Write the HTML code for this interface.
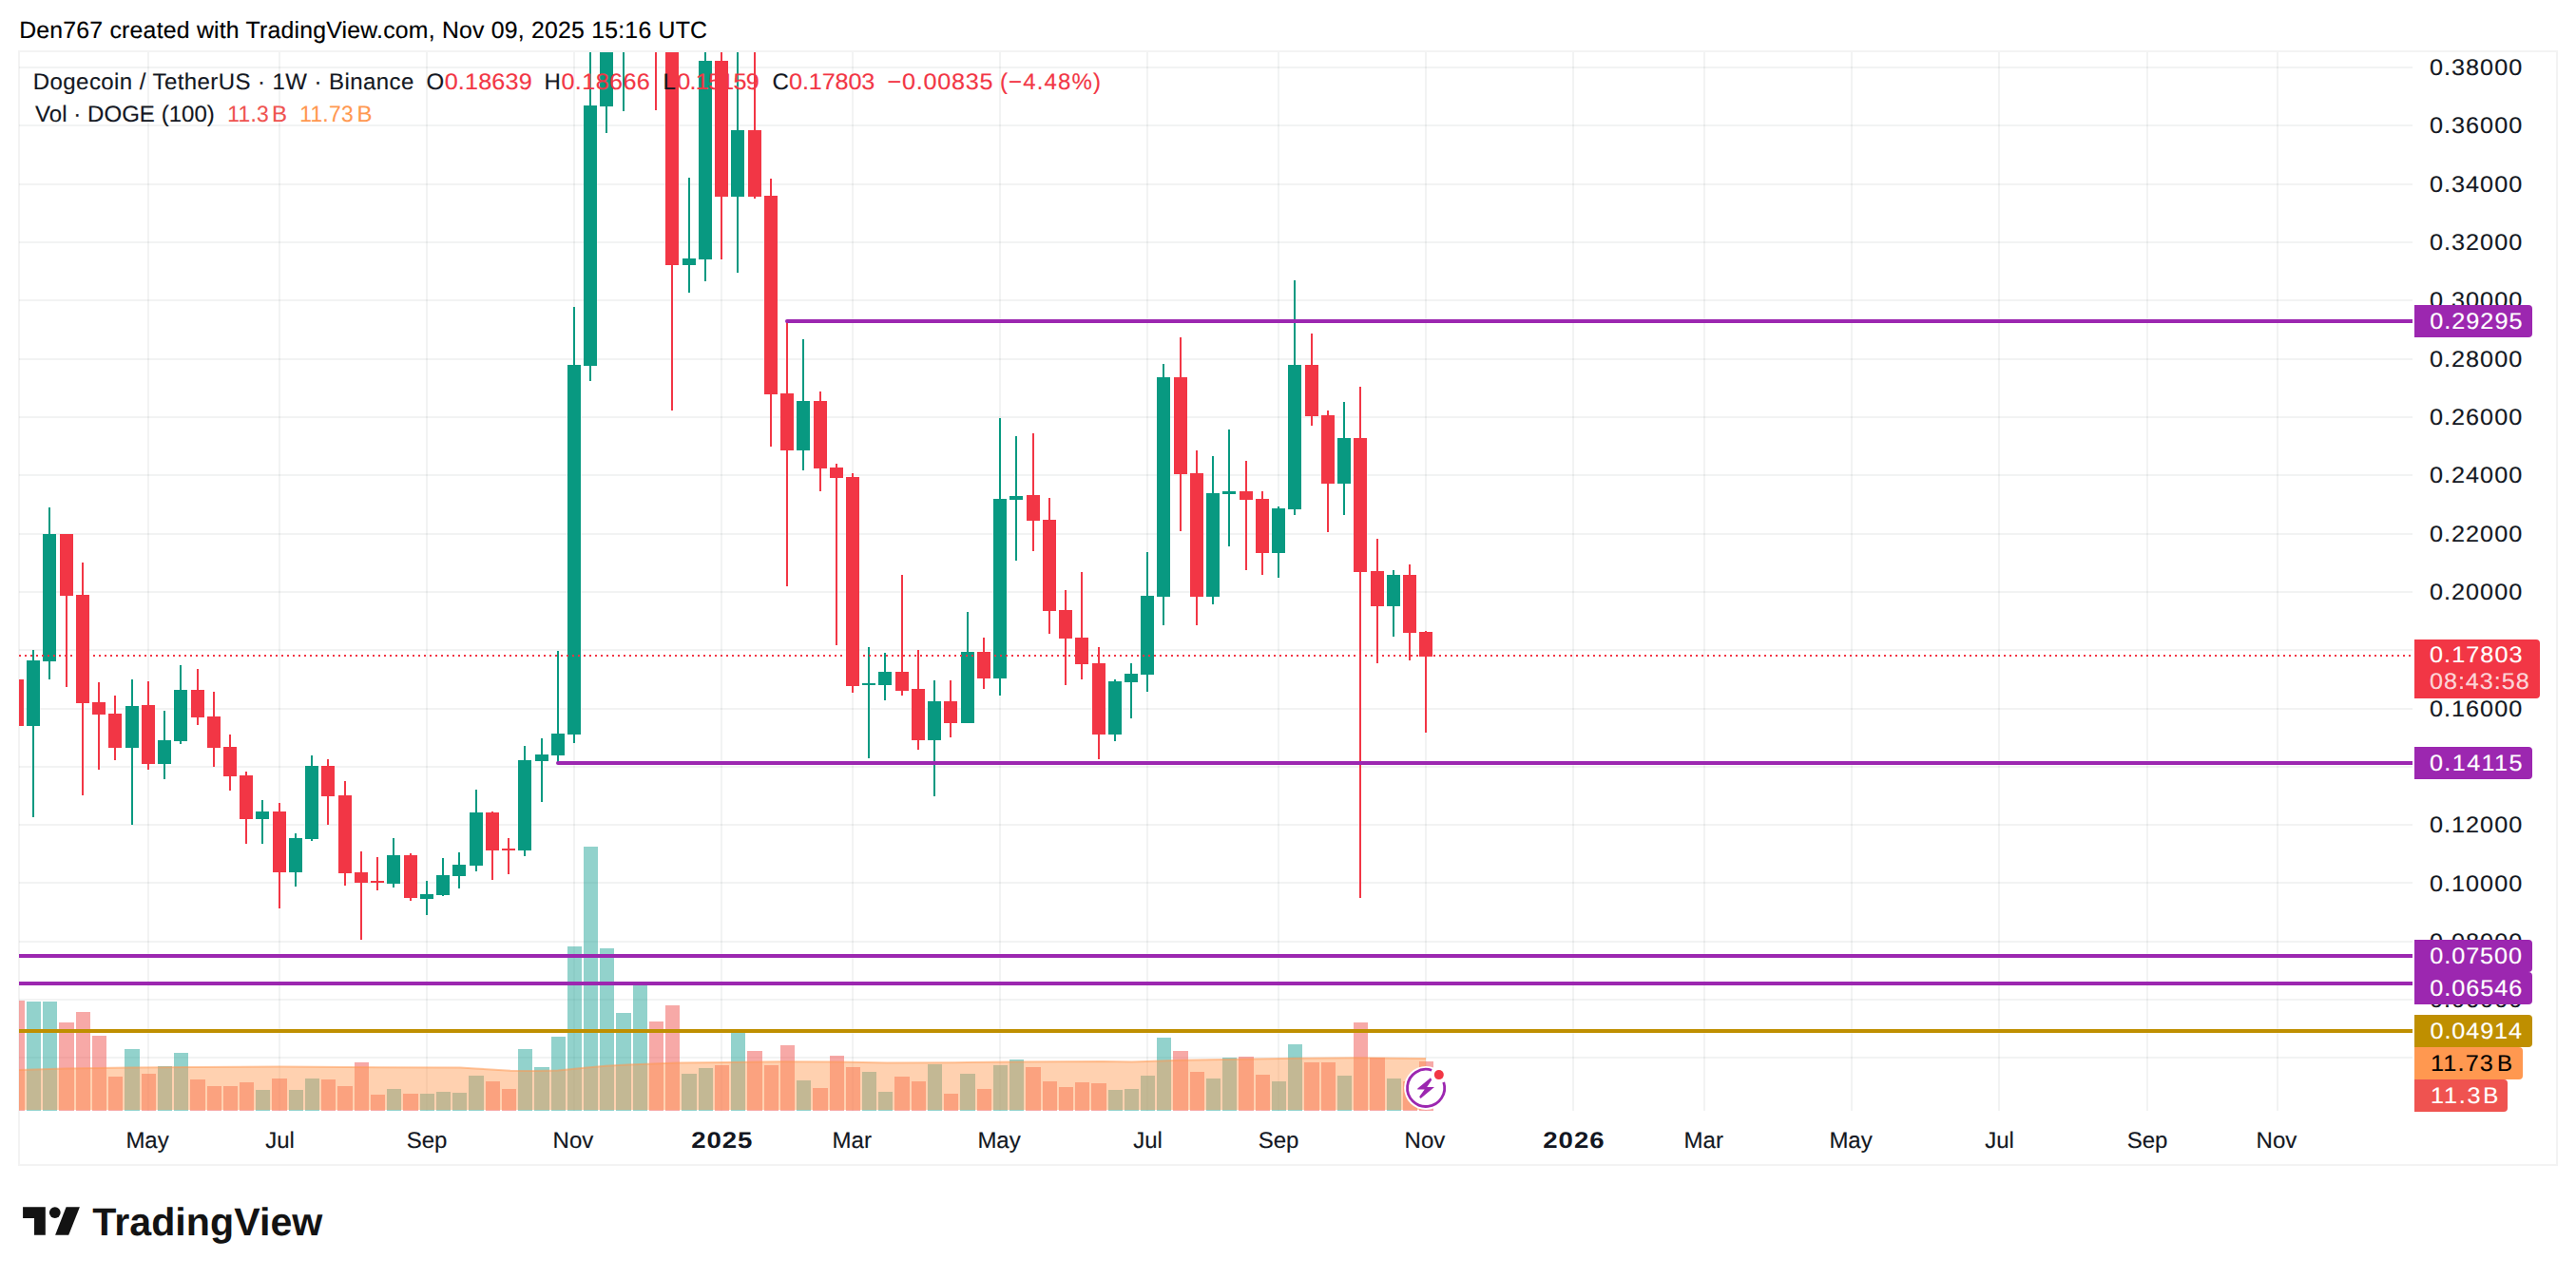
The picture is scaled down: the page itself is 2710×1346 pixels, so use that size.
<!DOCTYPE html>
<html lang="en"><head><meta charset="utf-8"><title>DOGEUSDT 1W chart</title>
<style>html,body{margin:0;padding:0;background:#fff}body{width:2710px;height:1346px;overflow:hidden}svg{display:block}</style>
</head><body>
<svg width="2710" height="1346" viewBox="0 0 2710 1346" font-family="'Liberation Sans', sans-serif" shape-rendering="crispEdges" text-rendering="geometricPrecision">
<rect width="2710" height="1346" fill="#fff"/>
<defs><clipPath id="plot"><rect x="20" y="55" width="2518" height="1114"/></clipPath></defs>
<g fill="#f3f3f3">
<rect x="19" y="53" width="2" height="1174"/>
<rect x="19" y="53" width="2672" height="2"/>
<rect x="2689" y="53" width="2" height="1174"/>
<rect x="19" y="1225" width="2672" height="2"/>
</g>
<g fill="#2a2e39" fill-opacity="0.06">
<rect x="155" y="55" width="2" height="1114"/>
<rect x="293" y="55" width="2" height="1114"/>
<rect x="448" y="55" width="2" height="1114"/>
<rect x="603" y="55" width="2" height="1114"/>
<rect x="758" y="55" width="2" height="1114"/>
<rect x="896" y="55" width="2" height="1114"/>
<rect x="1051" y="55" width="2" height="1114"/>
<rect x="1206" y="55" width="2" height="1114"/>
<rect x="1344" y="55" width="2" height="1114"/>
<rect x="1499" y="55" width="2" height="1114"/>
<rect x="1654" y="55" width="2" height="1114"/>
<rect x="1792" y="55" width="2" height="1114"/>
<rect x="1947" y="55" width="2" height="1114"/>
<rect x="2102" y="55" width="2" height="1114"/>
<rect x="2258" y="55" width="2" height="1114"/>
<rect x="2395" y="55" width="2" height="1114"/>
<rect x="20" y="70" width="2518" height="2"/>
<rect x="20" y="131" width="2518" height="2"/>
<rect x="20" y="193" width="2518" height="2"/>
<rect x="20" y="254" width="2518" height="2"/>
<rect x="20" y="315" width="2518" height="2"/>
<rect x="20" y="377" width="2518" height="2"/>
<rect x="20" y="438" width="2518" height="2"/>
<rect x="20" y="499" width="2518" height="2"/>
<rect x="20" y="561" width="2518" height="2"/>
<rect x="20" y="622" width="2518" height="2"/>
<rect x="20" y="683" width="2518" height="2"/>
<rect x="20" y="745" width="2518" height="2"/>
<rect x="20" y="806" width="2518" height="2"/>
<rect x="20" y="867" width="2518" height="2"/>
<rect x="20" y="928" width="2518" height="2"/>
<rect x="20" y="990" width="2518" height="2"/>
<rect x="20" y="1051" width="2518" height="2"/>
<rect x="20" y="1112" width="2518" height="2"/>
</g>
<g clip-path="url(#plot)">
<rect x="11" y="1053" width="15" height="116" fill="#ef5350" fill-opacity="0.5"/>
<rect x="28" y="1054" width="15" height="115" fill="#26a69a" fill-opacity="0.5"/>
<rect x="45" y="1054" width="15" height="115" fill="#26a69a" fill-opacity="0.5"/>
<rect x="62" y="1076" width="16" height="93" fill="#ef5350" fill-opacity="0.5"/>
<rect x="80" y="1065" width="15" height="104" fill="#ef5350" fill-opacity="0.5"/>
<rect x="97" y="1090" width="15" height="79" fill="#ef5350" fill-opacity="0.5"/>
<rect x="114" y="1133" width="15" height="36" fill="#ef5350" fill-opacity="0.5"/>
<rect x="131" y="1104" width="16" height="65" fill="#26a69a" fill-opacity="0.5"/>
<rect x="149" y="1130" width="15" height="39" fill="#ef5350" fill-opacity="0.5"/>
<rect x="166" y="1122" width="15" height="47" fill="#26a69a" fill-opacity="0.5"/>
<rect x="183" y="1108" width="15" height="61" fill="#26a69a" fill-opacity="0.5"/>
<rect x="200" y="1136" width="16" height="33" fill="#ef5350" fill-opacity="0.5"/>
<rect x="218" y="1143" width="15" height="26" fill="#ef5350" fill-opacity="0.5"/>
<rect x="235" y="1143" width="15" height="26" fill="#ef5350" fill-opacity="0.5"/>
<rect x="252" y="1139" width="15" height="30" fill="#ef5350" fill-opacity="0.5"/>
<rect x="269" y="1147" width="15" height="22" fill="#26a69a" fill-opacity="0.5"/>
<rect x="286" y="1135" width="16" height="34" fill="#ef5350" fill-opacity="0.5"/>
<rect x="304" y="1147" width="15" height="22" fill="#26a69a" fill-opacity="0.5"/>
<rect x="321" y="1135" width="15" height="34" fill="#26a69a" fill-opacity="0.5"/>
<rect x="338" y="1136" width="15" height="33" fill="#ef5350" fill-opacity="0.5"/>
<rect x="355" y="1143" width="16" height="26" fill="#ef5350" fill-opacity="0.5"/>
<rect x="373" y="1118" width="15" height="51" fill="#ef5350" fill-opacity="0.5"/>
<rect x="390" y="1152" width="15" height="17" fill="#ef5350" fill-opacity="0.5"/>
<rect x="407" y="1146" width="15" height="23" fill="#26a69a" fill-opacity="0.5"/>
<rect x="424" y="1151" width="16" height="18" fill="#ef5350" fill-opacity="0.5"/>
<rect x="442" y="1151" width="15" height="18" fill="#26a69a" fill-opacity="0.5"/>
<rect x="459" y="1149" width="15" height="20" fill="#26a69a" fill-opacity="0.5"/>
<rect x="476" y="1150" width="15" height="19" fill="#26a69a" fill-opacity="0.5"/>
<rect x="493" y="1132" width="16" height="37" fill="#26a69a" fill-opacity="0.5"/>
<rect x="511" y="1138" width="15" height="31" fill="#ef5350" fill-opacity="0.5"/>
<rect x="528" y="1146" width="15" height="23" fill="#ef5350" fill-opacity="0.5"/>
<rect x="545" y="1104" width="15" height="65" fill="#26a69a" fill-opacity="0.5"/>
<rect x="562" y="1123" width="16" height="46" fill="#26a69a" fill-opacity="0.5"/>
<rect x="580" y="1091" width="15" height="78" fill="#26a69a" fill-opacity="0.5"/>
<rect x="597" y="996" width="15" height="173" fill="#26a69a" fill-opacity="0.5"/>
<rect x="614" y="891" width="15" height="278" fill="#26a69a" fill-opacity="0.5"/>
<rect x="631" y="998" width="15" height="171" fill="#26a69a" fill-opacity="0.5"/>
<rect x="648" y="1066" width="16" height="103" fill="#26a69a" fill-opacity="0.5"/>
<rect x="666" y="1037" width="15" height="132" fill="#26a69a" fill-opacity="0.5"/>
<rect x="683" y="1075" width="15" height="94" fill="#ef5350" fill-opacity="0.5"/>
<rect x="700" y="1058" width="15" height="111" fill="#ef5350" fill-opacity="0.5"/>
<rect x="717" y="1130" width="16" height="39" fill="#26a69a" fill-opacity="0.5"/>
<rect x="735" y="1124" width="15" height="45" fill="#26a69a" fill-opacity="0.5"/>
<rect x="752" y="1121" width="15" height="48" fill="#ef5350" fill-opacity="0.5"/>
<rect x="769" y="1087" width="15" height="82" fill="#26a69a" fill-opacity="0.5"/>
<rect x="786" y="1106" width="16" height="63" fill="#ef5350" fill-opacity="0.5"/>
<rect x="804" y="1121" width="15" height="48" fill="#ef5350" fill-opacity="0.5"/>
<rect x="821" y="1100" width="15" height="69" fill="#ef5350" fill-opacity="0.5"/>
<rect x="838" y="1137" width="15" height="32" fill="#26a69a" fill-opacity="0.5"/>
<rect x="855" y="1145" width="16" height="24" fill="#ef5350" fill-opacity="0.5"/>
<rect x="873" y="1111" width="15" height="58" fill="#ef5350" fill-opacity="0.5"/>
<rect x="890" y="1123" width="15" height="46" fill="#ef5350" fill-opacity="0.5"/>
<rect x="907" y="1128" width="15" height="41" fill="#26a69a" fill-opacity="0.5"/>
<rect x="924" y="1149" width="15" height="20" fill="#26a69a" fill-opacity="0.5"/>
<rect x="941" y="1133" width="16" height="36" fill="#ef5350" fill-opacity="0.5"/>
<rect x="959" y="1138" width="15" height="31" fill="#ef5350" fill-opacity="0.5"/>
<rect x="976" y="1120" width="15" height="49" fill="#26a69a" fill-opacity="0.5"/>
<rect x="993" y="1151" width="15" height="18" fill="#ef5350" fill-opacity="0.5"/>
<rect x="1010" y="1130" width="16" height="39" fill="#26a69a" fill-opacity="0.5"/>
<rect x="1028" y="1146" width="15" height="23" fill="#ef5350" fill-opacity="0.5"/>
<rect x="1045" y="1121" width="15" height="48" fill="#26a69a" fill-opacity="0.5"/>
<rect x="1062" y="1115" width="15" height="54" fill="#26a69a" fill-opacity="0.5"/>
<rect x="1079" y="1123" width="16" height="46" fill="#ef5350" fill-opacity="0.5"/>
<rect x="1097" y="1138" width="15" height="31" fill="#ef5350" fill-opacity="0.5"/>
<rect x="1114" y="1144" width="15" height="25" fill="#ef5350" fill-opacity="0.5"/>
<rect x="1131" y="1139" width="15" height="30" fill="#ef5350" fill-opacity="0.5"/>
<rect x="1148" y="1140" width="16" height="29" fill="#ef5350" fill-opacity="0.5"/>
<rect x="1166" y="1147" width="15" height="22" fill="#26a69a" fill-opacity="0.5"/>
<rect x="1183" y="1146" width="15" height="23" fill="#26a69a" fill-opacity="0.5"/>
<rect x="1200" y="1132" width="15" height="37" fill="#26a69a" fill-opacity="0.5"/>
<rect x="1217" y="1092" width="15" height="77" fill="#26a69a" fill-opacity="0.5"/>
<rect x="1234" y="1106" width="16" height="63" fill="#ef5350" fill-opacity="0.5"/>
<rect x="1252" y="1128" width="15" height="41" fill="#ef5350" fill-opacity="0.5"/>
<rect x="1269" y="1135" width="15" height="34" fill="#26a69a" fill-opacity="0.5"/>
<rect x="1286" y="1113" width="15" height="56" fill="#26a69a" fill-opacity="0.5"/>
<rect x="1303" y="1112" width="16" height="57" fill="#ef5350" fill-opacity="0.5"/>
<rect x="1321" y="1131" width="15" height="38" fill="#ef5350" fill-opacity="0.5"/>
<rect x="1338" y="1138" width="15" height="31" fill="#26a69a" fill-opacity="0.5"/>
<rect x="1355" y="1099" width="15" height="70" fill="#26a69a" fill-opacity="0.5"/>
<rect x="1372" y="1118" width="16" height="51" fill="#ef5350" fill-opacity="0.5"/>
<rect x="1390" y="1118" width="15" height="51" fill="#ef5350" fill-opacity="0.5"/>
<rect x="1407" y="1132" width="15" height="37" fill="#26a69a" fill-opacity="0.5"/>
<rect x="1424" y="1076" width="15" height="93" fill="#ef5350" fill-opacity="0.5"/>
<rect x="1441" y="1113" width="16" height="56" fill="#ef5350" fill-opacity="0.5"/>
<rect x="1459" y="1135" width="15" height="34" fill="#26a69a" fill-opacity="0.5"/>
<rect x="1476" y="1138" width="15" height="31" fill="#ef5350" fill-opacity="0.5"/>
<rect x="1493" y="1117" width="15" height="52" fill="#ef5350" fill-opacity="0.5"/>
<polygon points="20,1168 20,1126.0 68,1124.6 136,1123.5 203,1123.0 294,1122.5 400,1123.3 484,1123.5 500,1124.5 537,1126.7 562,1127.0 587,1126.4 612,1123.9 637,1121.7 660,1120.5 713,1118.4 780,1117.8 821,1117.2 882,1117.4 933,1118.6 1004,1118.2 1065,1117.4 1160,1117.0 1191,1117.6 1242,1115.8 1303,1114.8 1364,1113.7 1425,1113.3 1500,1114.1 1500,1168" fill="#ff9850" fill-opacity="0.45" shape-rendering="geometricPrecision"/>
<polyline points="20,1126.0 68,1124.6 136,1123.5 203,1123.0 294,1122.5 400,1123.3 484,1123.5 500,1124.5 537,1126.7 562,1127.0 587,1126.4 612,1123.9 637,1121.7 660,1120.5 713,1118.4 780,1117.8 821,1117.2 882,1117.4 933,1118.6 1004,1118.2 1065,1117.4 1160,1117.0 1191,1117.6 1242,1115.8 1303,1114.8 1364,1113.7 1425,1113.3 1500,1114.1" fill="none" stroke="#ff9850" stroke-opacity="0.52" stroke-width="2" stroke-linejoin="round" shape-rendering="geometricPrecision"/>
<rect x="11" y="715" width="14" height="49" fill="#F23645"/>
<rect x="34" y="684" width="2" height="176" fill="#089981"/>
<rect x="28" y="695" width="14" height="69" fill="#089981"/>
<rect x="51" y="534" width="2" height="181" fill="#089981"/>
<rect x="45" y="562" width="14" height="134" fill="#089981"/>
<rect x="69" y="562" width="2" height="161" fill="#F23645"/>
<rect x="63" y="562" width="14" height="65" fill="#F23645"/>
<rect x="86" y="592" width="2" height="245" fill="#F23645"/>
<rect x="80" y="626" width="14" height="114" fill="#F23645"/>
<rect x="103" y="718" width="2" height="92" fill="#F23645"/>
<rect x="97" y="739" width="14" height="13" fill="#F23645"/>
<rect x="120" y="732" width="2" height="68" fill="#F23645"/>
<rect x="114" y="751" width="14" height="36" fill="#F23645"/>
<rect x="138" y="715" width="2" height="153" fill="#089981"/>
<rect x="132" y="743" width="14" height="44" fill="#089981"/>
<rect x="155" y="717" width="2" height="93" fill="#F23645"/>
<rect x="149" y="742" width="14" height="62" fill="#F23645"/>
<rect x="172" y="748" width="2" height="72" fill="#089981"/>
<rect x="166" y="779" width="14" height="25" fill="#089981"/>
<rect x="189" y="700" width="2" height="83" fill="#089981"/>
<rect x="183" y="726" width="14" height="54" fill="#089981"/>
<rect x="207" y="704" width="2" height="59" fill="#F23645"/>
<rect x="201" y="726" width="14" height="29" fill="#F23645"/>
<rect x="224" y="728" width="2" height="79" fill="#F23645"/>
<rect x="218" y="754" width="14" height="33" fill="#F23645"/>
<rect x="241" y="773" width="2" height="59" fill="#F23645"/>
<rect x="235" y="786" width="14" height="31" fill="#F23645"/>
<rect x="258" y="812" width="2" height="76" fill="#F23645"/>
<rect x="252" y="816" width="14" height="46" fill="#F23645"/>
<rect x="275" y="842" width="2" height="46" fill="#089981"/>
<rect x="269" y="854" width="14" height="8" fill="#089981"/>
<rect x="293" y="845" width="2" height="111" fill="#F23645"/>
<rect x="287" y="854" width="14" height="64" fill="#F23645"/>
<rect x="310" y="877" width="2" height="56" fill="#089981"/>
<rect x="304" y="882" width="14" height="36" fill="#089981"/>
<rect x="327" y="795" width="2" height="90" fill="#089981"/>
<rect x="321" y="806" width="14" height="77" fill="#089981"/>
<rect x="344" y="799" width="2" height="69" fill="#F23645"/>
<rect x="338" y="806" width="14" height="32" fill="#F23645"/>
<rect x="362" y="822" width="2" height="110" fill="#F23645"/>
<rect x="356" y="837" width="14" height="82" fill="#F23645"/>
<rect x="379" y="896" width="2" height="93" fill="#F23645"/>
<rect x="373" y="918" width="14" height="11" fill="#F23645"/>
<rect x="396" y="902" width="2" height="35" fill="#F23645"/>
<rect x="390" y="927" width="14" height="2" fill="#F23645"/>
<rect x="413" y="882" width="2" height="52" fill="#089981"/>
<rect x="407" y="900" width="14" height="30" fill="#089981"/>
<rect x="431" y="898" width="2" height="50" fill="#F23645"/>
<rect x="425" y="900" width="14" height="45" fill="#F23645"/>
<rect x="448" y="927" width="2" height="36" fill="#089981"/>
<rect x="442" y="941" width="14" height="5" fill="#089981"/>
<rect x="465" y="903" width="2" height="40" fill="#089981"/>
<rect x="459" y="921" width="14" height="21" fill="#089981"/>
<rect x="482" y="897" width="2" height="38" fill="#089981"/>
<rect x="476" y="910" width="14" height="12" fill="#089981"/>
<rect x="500" y="831" width="2" height="86" fill="#089981"/>
<rect x="494" y="855" width="14" height="56" fill="#089981"/>
<rect x="517" y="854" width="2" height="72" fill="#F23645"/>
<rect x="511" y="855" width="14" height="40" fill="#F23645"/>
<rect x="534" y="882" width="2" height="38" fill="#F23645"/>
<rect x="528" y="893" width="14" height="2" fill="#F23645"/>
<rect x="551" y="785" width="2" height="116" fill="#089981"/>
<rect x="545" y="800" width="14" height="95" fill="#089981"/>
<rect x="569" y="777" width="2" height="67" fill="#089981"/>
<rect x="563" y="794" width="14" height="7" fill="#089981"/>
<rect x="586" y="685" width="2" height="117" fill="#089981"/>
<rect x="580" y="772" width="14" height="23" fill="#089981"/>
<rect x="603" y="323" width="2" height="459" fill="#089981"/>
<rect x="597" y="384" width="14" height="389" fill="#089981"/>
<rect x="620" y="0" width="2" height="401" fill="#089981"/>
<rect x="614" y="111" width="14" height="274" fill="#089981"/>
<rect x="637" y="0" width="2" height="140" fill="#089981"/>
<rect x="631" y="0" width="14" height="112" fill="#089981"/>
<rect x="655" y="0" width="2" height="117" fill="#089981"/>
<rect x="689" y="0" width="2" height="116" fill="#F23645"/>
<rect x="706" y="0" width="2" height="432" fill="#F23645"/>
<rect x="700" y="0" width="14" height="279" fill="#F23645"/>
<rect x="724" y="187" width="2" height="121" fill="#089981"/>
<rect x="718" y="272" width="14" height="7" fill="#089981"/>
<rect x="741" y="0" width="2" height="296" fill="#089981"/>
<rect x="735" y="64" width="14" height="209" fill="#089981"/>
<rect x="758" y="0" width="2" height="273" fill="#F23645"/>
<rect x="752" y="64" width="14" height="143" fill="#F23645"/>
<rect x="775" y="0" width="2" height="287" fill="#089981"/>
<rect x="769" y="137" width="14" height="70" fill="#089981"/>
<rect x="793" y="0" width="2" height="209" fill="#F23645"/>
<rect x="787" y="137" width="14" height="70" fill="#F23645"/>
<rect x="810" y="188" width="2" height="282" fill="#F23645"/>
<rect x="804" y="206" width="14" height="209" fill="#F23645"/>
<rect x="827" y="338" width="2" height="279" fill="#F23645"/>
<rect x="821" y="414" width="14" height="60" fill="#F23645"/>
<rect x="844" y="357" width="2" height="138" fill="#089981"/>
<rect x="838" y="422" width="14" height="52" fill="#089981"/>
<rect x="862" y="412" width="2" height="105" fill="#F23645"/>
<rect x="856" y="422" width="14" height="71" fill="#F23645"/>
<rect x="879" y="488" width="2" height="191" fill="#F23645"/>
<rect x="873" y="492" width="14" height="11" fill="#F23645"/>
<rect x="896" y="498" width="2" height="231" fill="#F23645"/>
<rect x="890" y="502" width="14" height="220" fill="#F23645"/>
<rect x="913" y="681" width="2" height="117" fill="#089981"/>
<rect x="907" y="719" width="14" height="2" fill="#089981"/>
<rect x="930" y="687" width="2" height="50" fill="#089981"/>
<rect x="924" y="707" width="14" height="14" fill="#089981"/>
<rect x="948" y="605" width="2" height="127" fill="#F23645"/>
<rect x="942" y="707" width="14" height="20" fill="#F23645"/>
<rect x="965" y="684" width="2" height="105" fill="#F23645"/>
<rect x="959" y="725" width="14" height="54" fill="#F23645"/>
<rect x="982" y="716" width="2" height="122" fill="#089981"/>
<rect x="976" y="738" width="14" height="41" fill="#089981"/>
<rect x="999" y="716" width="2" height="60" fill="#F23645"/>
<rect x="993" y="738" width="14" height="23" fill="#F23645"/>
<rect x="1017" y="644" width="2" height="117" fill="#089981"/>
<rect x="1011" y="686" width="14" height="75" fill="#089981"/>
<rect x="1034" y="671" width="2" height="54" fill="#F23645"/>
<rect x="1028" y="686" width="14" height="28" fill="#F23645"/>
<rect x="1051" y="440" width="2" height="292" fill="#089981"/>
<rect x="1045" y="525" width="14" height="189" fill="#089981"/>
<rect x="1068" y="459" width="2" height="131" fill="#089981"/>
<rect x="1062" y="522" width="14" height="4" fill="#089981"/>
<rect x="1086" y="456" width="2" height="124" fill="#F23645"/>
<rect x="1080" y="521" width="14" height="27" fill="#F23645"/>
<rect x="1103" y="524" width="2" height="143" fill="#F23645"/>
<rect x="1097" y="547" width="14" height="96" fill="#F23645"/>
<rect x="1120" y="621" width="2" height="100" fill="#F23645"/>
<rect x="1114" y="642" width="14" height="30" fill="#F23645"/>
<rect x="1137" y="602" width="2" height="113" fill="#F23645"/>
<rect x="1131" y="671" width="14" height="28" fill="#F23645"/>
<rect x="1155" y="681" width="2" height="118" fill="#F23645"/>
<rect x="1149" y="698" width="14" height="75" fill="#F23645"/>
<rect x="1172" y="715" width="2" height="65" fill="#089981"/>
<rect x="1166" y="717" width="14" height="56" fill="#089981"/>
<rect x="1189" y="698" width="2" height="58" fill="#089981"/>
<rect x="1183" y="709" width="14" height="9" fill="#089981"/>
<rect x="1206" y="581" width="2" height="147" fill="#089981"/>
<rect x="1200" y="627" width="14" height="83" fill="#089981"/>
<rect x="1223" y="383" width="2" height="275" fill="#089981"/>
<rect x="1217" y="397" width="14" height="231" fill="#089981"/>
<rect x="1241" y="355" width="2" height="204" fill="#F23645"/>
<rect x="1235" y="397" width="14" height="102" fill="#F23645"/>
<rect x="1258" y="474" width="2" height="184" fill="#F23645"/>
<rect x="1252" y="498" width="14" height="130" fill="#F23645"/>
<rect x="1275" y="480" width="2" height="156" fill="#089981"/>
<rect x="1269" y="519" width="14" height="109" fill="#089981"/>
<rect x="1292" y="452" width="2" height="123" fill="#089981"/>
<rect x="1286" y="517" width="14" height="3" fill="#089981"/>
<rect x="1310" y="485" width="2" height="115" fill="#F23645"/>
<rect x="1304" y="517" width="14" height="9" fill="#F23645"/>
<rect x="1327" y="517" width="2" height="88" fill="#F23645"/>
<rect x="1321" y="525" width="14" height="57" fill="#F23645"/>
<rect x="1344" y="533" width="2" height="75" fill="#089981"/>
<rect x="1338" y="535" width="14" height="47" fill="#089981"/>
<rect x="1361" y="295" width="2" height="247" fill="#089981"/>
<rect x="1355" y="384" width="14" height="152" fill="#089981"/>
<rect x="1379" y="351" width="2" height="97" fill="#F23645"/>
<rect x="1373" y="384" width="14" height="54" fill="#F23645"/>
<rect x="1396" y="432" width="2" height="128" fill="#F23645"/>
<rect x="1390" y="437" width="14" height="72" fill="#F23645"/>
<rect x="1413" y="423" width="2" height="119" fill="#089981"/>
<rect x="1407" y="461" width="14" height="48" fill="#089981"/>
<rect x="1430" y="407" width="2" height="538" fill="#F23645"/>
<rect x="1424" y="461" width="14" height="141" fill="#F23645"/>
<rect x="1448" y="567" width="2" height="131" fill="#F23645"/>
<rect x="1442" y="601" width="14" height="37" fill="#F23645"/>
<rect x="1465" y="600" width="2" height="70" fill="#089981"/>
<rect x="1459" y="605" width="14" height="33" fill="#089981"/>
<rect x="1482" y="594" width="2" height="101" fill="#F23645"/>
<rect x="1476" y="605" width="14" height="61" fill="#F23645"/>
<rect x="1499" y="664" width="2" height="107" fill="#F23645"/>
<rect x="1493" y="665" width="14" height="26" fill="#F23645"/>
</g>
<rect x="828" y="336" width="1710" height="4" fill="#9C27B0"/>
<circle cx="828" cy="338" r="2" fill="#9C27B0" shape-rendering="geometricPrecision"/>
<rect x="587" y="801" width="1951" height="4" fill="#9C27B0"/>
<circle cx="587" cy="803" r="2" fill="#9C27B0" shape-rendering="geometricPrecision"/>
<rect x="20" y="1004" width="2518" height="4" fill="#9C27B0"/>
<rect x="20" y="1033" width="2518" height="4" fill="#9C27B0"/>
<rect x="20" y="1083" width="2518" height="4" fill="#BF8F00"/>
<path d="M20 689h2v2h-2zM26 689h2v2h-2zM32 689h2v2h-2zM38 689h2v2h-2zM44 689h2v2h-2zM50 689h2v2h-2zM56 689h2v2h-2zM62 689h2v2h-2zM68 689h2v2h-2zM74 689h2v2h-2zM80 689h2v2h-2zM86 689h2v2h-2zM92 689h2v2h-2zM98 689h2v2h-2zM104 689h2v2h-2zM110 689h2v2h-2zM116 689h2v2h-2zM122 689h2v2h-2zM128 689h2v2h-2zM134 689h2v2h-2zM140 689h2v2h-2zM146 689h2v2h-2zM152 689h2v2h-2zM158 689h2v2h-2zM164 689h2v2h-2zM170 689h2v2h-2zM176 689h2v2h-2zM182 689h2v2h-2zM188 689h2v2h-2zM194 689h2v2h-2zM200 689h2v2h-2zM206 689h2v2h-2zM212 689h2v2h-2zM218 689h2v2h-2zM224 689h2v2h-2zM230 689h2v2h-2zM236 689h2v2h-2zM242 689h2v2h-2zM248 689h2v2h-2zM254 689h2v2h-2zM260 689h2v2h-2zM266 689h2v2h-2zM272 689h2v2h-2zM278 689h2v2h-2zM284 689h2v2h-2zM290 689h2v2h-2zM296 689h2v2h-2zM302 689h2v2h-2zM308 689h2v2h-2zM314 689h2v2h-2zM320 689h2v2h-2zM326 689h2v2h-2zM332 689h2v2h-2zM338 689h2v2h-2zM344 689h2v2h-2zM350 689h2v2h-2zM356 689h2v2h-2zM362 689h2v2h-2zM368 689h2v2h-2zM374 689h2v2h-2zM380 689h2v2h-2zM386 689h2v2h-2zM392 689h2v2h-2zM398 689h2v2h-2zM404 689h2v2h-2zM410 689h2v2h-2zM416 689h2v2h-2zM422 689h2v2h-2zM428 689h2v2h-2zM434 689h2v2h-2zM440 689h2v2h-2zM446 689h2v2h-2zM452 689h2v2h-2zM458 689h2v2h-2zM464 689h2v2h-2zM470 689h2v2h-2zM476 689h2v2h-2zM482 689h2v2h-2zM488 689h2v2h-2zM494 689h2v2h-2zM500 689h2v2h-2zM506 689h2v2h-2zM512 689h2v2h-2zM518 689h2v2h-2zM524 689h2v2h-2zM530 689h2v2h-2zM536 689h2v2h-2zM542 689h2v2h-2zM548 689h2v2h-2zM554 689h2v2h-2zM560 689h2v2h-2zM566 689h2v2h-2zM572 689h2v2h-2zM578 689h2v2h-2zM584 689h2v2h-2zM590 689h2v2h-2zM596 689h2v2h-2zM602 689h2v2h-2zM608 689h2v2h-2zM614 689h2v2h-2zM620 689h2v2h-2zM626 689h2v2h-2zM632 689h2v2h-2zM638 689h2v2h-2zM644 689h2v2h-2zM650 689h2v2h-2zM656 689h2v2h-2zM662 689h2v2h-2zM668 689h2v2h-2zM674 689h2v2h-2zM680 689h2v2h-2zM686 689h2v2h-2zM692 689h2v2h-2zM698 689h2v2h-2zM704 689h2v2h-2zM710 689h2v2h-2zM716 689h2v2h-2zM722 689h2v2h-2zM728 689h2v2h-2zM734 689h2v2h-2zM740 689h2v2h-2zM746 689h2v2h-2zM752 689h2v2h-2zM758 689h2v2h-2zM764 689h2v2h-2zM770 689h2v2h-2zM776 689h2v2h-2zM782 689h2v2h-2zM788 689h2v2h-2zM794 689h2v2h-2zM800 689h2v2h-2zM806 689h2v2h-2zM812 689h2v2h-2zM818 689h2v2h-2zM824 689h2v2h-2zM830 689h2v2h-2zM836 689h2v2h-2zM842 689h2v2h-2zM848 689h2v2h-2zM854 689h2v2h-2zM860 689h2v2h-2zM866 689h2v2h-2zM872 689h2v2h-2zM878 689h2v2h-2zM884 689h2v2h-2zM890 689h2v2h-2zM896 689h2v2h-2zM902 689h2v2h-2zM908 689h2v2h-2zM914 689h2v2h-2zM920 689h2v2h-2zM926 689h2v2h-2zM932 689h2v2h-2zM938 689h2v2h-2zM944 689h2v2h-2zM950 689h2v2h-2zM956 689h2v2h-2zM962 689h2v2h-2zM968 689h2v2h-2zM974 689h2v2h-2zM980 689h2v2h-2zM986 689h2v2h-2zM992 689h2v2h-2zM998 689h2v2h-2zM1004 689h2v2h-2zM1010 689h2v2h-2zM1016 689h2v2h-2zM1022 689h2v2h-2zM1028 689h2v2h-2zM1034 689h2v2h-2zM1040 689h2v2h-2zM1046 689h2v2h-2zM1052 689h2v2h-2zM1058 689h2v2h-2zM1064 689h2v2h-2zM1070 689h2v2h-2zM1076 689h2v2h-2zM1082 689h2v2h-2zM1088 689h2v2h-2zM1094 689h2v2h-2zM1100 689h2v2h-2zM1106 689h2v2h-2zM1112 689h2v2h-2zM1118 689h2v2h-2zM1124 689h2v2h-2zM1130 689h2v2h-2zM1136 689h2v2h-2zM1142 689h2v2h-2zM1148 689h2v2h-2zM1154 689h2v2h-2zM1160 689h2v2h-2zM1166 689h2v2h-2zM1172 689h2v2h-2zM1178 689h2v2h-2zM1184 689h2v2h-2zM1190 689h2v2h-2zM1196 689h2v2h-2zM1202 689h2v2h-2zM1208 689h2v2h-2zM1214 689h2v2h-2zM1220 689h2v2h-2zM1226 689h2v2h-2zM1232 689h2v2h-2zM1238 689h2v2h-2zM1244 689h2v2h-2zM1250 689h2v2h-2zM1256 689h2v2h-2zM1262 689h2v2h-2zM1268 689h2v2h-2zM1274 689h2v2h-2zM1280 689h2v2h-2zM1286 689h2v2h-2zM1292 689h2v2h-2zM1298 689h2v2h-2zM1304 689h2v2h-2zM1310 689h2v2h-2zM1316 689h2v2h-2zM1322 689h2v2h-2zM1328 689h2v2h-2zM1334 689h2v2h-2zM1340 689h2v2h-2zM1346 689h2v2h-2zM1352 689h2v2h-2zM1358 689h2v2h-2zM1364 689h2v2h-2zM1370 689h2v2h-2zM1376 689h2v2h-2zM1382 689h2v2h-2zM1388 689h2v2h-2zM1394 689h2v2h-2zM1400 689h2v2h-2zM1406 689h2v2h-2zM1412 689h2v2h-2zM1418 689h2v2h-2zM1424 689h2v2h-2zM1430 689h2v2h-2zM1436 689h2v2h-2zM1442 689h2v2h-2zM1448 689h2v2h-2zM1454 689h2v2h-2zM1460 689h2v2h-2zM1466 689h2v2h-2zM1472 689h2v2h-2zM1478 689h2v2h-2zM1484 689h2v2h-2zM1490 689h2v2h-2zM1496 689h2v2h-2zM1502 689h2v2h-2zM1508 689h2v2h-2zM1514 689h2v2h-2zM1520 689h2v2h-2zM1526 689h2v2h-2zM1532 689h2v2h-2zM1538 689h2v2h-2zM1544 689h2v2h-2zM1550 689h2v2h-2zM1556 689h2v2h-2zM1562 689h2v2h-2zM1568 689h2v2h-2zM1574 689h2v2h-2zM1580 689h2v2h-2zM1586 689h2v2h-2zM1592 689h2v2h-2zM1598 689h2v2h-2zM1604 689h2v2h-2zM1610 689h2v2h-2zM1616 689h2v2h-2zM1622 689h2v2h-2zM1628 689h2v2h-2zM1634 689h2v2h-2zM1640 689h2v2h-2zM1646 689h2v2h-2zM1652 689h2v2h-2zM1658 689h2v2h-2zM1664 689h2v2h-2zM1670 689h2v2h-2zM1676 689h2v2h-2zM1682 689h2v2h-2zM1688 689h2v2h-2zM1694 689h2v2h-2zM1700 689h2v2h-2zM1706 689h2v2h-2zM1712 689h2v2h-2zM1718 689h2v2h-2zM1724 689h2v2h-2zM1730 689h2v2h-2zM1736 689h2v2h-2zM1742 689h2v2h-2zM1748 689h2v2h-2zM1754 689h2v2h-2zM1760 689h2v2h-2zM1766 689h2v2h-2zM1772 689h2v2h-2zM1778 689h2v2h-2zM1784 689h2v2h-2zM1790 689h2v2h-2zM1796 689h2v2h-2zM1802 689h2v2h-2zM1808 689h2v2h-2zM1814 689h2v2h-2zM1820 689h2v2h-2zM1826 689h2v2h-2zM1832 689h2v2h-2zM1838 689h2v2h-2zM1844 689h2v2h-2zM1850 689h2v2h-2zM1856 689h2v2h-2zM1862 689h2v2h-2zM1868 689h2v2h-2zM1874 689h2v2h-2zM1880 689h2v2h-2zM1886 689h2v2h-2zM1892 689h2v2h-2zM1898 689h2v2h-2zM1904 689h2v2h-2zM1910 689h2v2h-2zM1916 689h2v2h-2zM1922 689h2v2h-2zM1928 689h2v2h-2zM1934 689h2v2h-2zM1940 689h2v2h-2zM1946 689h2v2h-2zM1952 689h2v2h-2zM1958 689h2v2h-2zM1964 689h2v2h-2zM1970 689h2v2h-2zM1976 689h2v2h-2zM1982 689h2v2h-2zM1988 689h2v2h-2zM1994 689h2v2h-2zM2000 689h2v2h-2zM2006 689h2v2h-2zM2012 689h2v2h-2zM2018 689h2v2h-2zM2024 689h2v2h-2zM2030 689h2v2h-2zM2036 689h2v2h-2zM2042 689h2v2h-2zM2048 689h2v2h-2zM2054 689h2v2h-2zM2060 689h2v2h-2zM2066 689h2v2h-2zM2072 689h2v2h-2zM2078 689h2v2h-2zM2084 689h2v2h-2zM2090 689h2v2h-2zM2096 689h2v2h-2zM2102 689h2v2h-2zM2108 689h2v2h-2zM2114 689h2v2h-2zM2120 689h2v2h-2zM2126 689h2v2h-2zM2132 689h2v2h-2zM2138 689h2v2h-2zM2144 689h2v2h-2zM2150 689h2v2h-2zM2156 689h2v2h-2zM2162 689h2v2h-2zM2168 689h2v2h-2zM2174 689h2v2h-2zM2180 689h2v2h-2zM2186 689h2v2h-2zM2192 689h2v2h-2zM2198 689h2v2h-2zM2204 689h2v2h-2zM2210 689h2v2h-2zM2216 689h2v2h-2zM2222 689h2v2h-2zM2228 689h2v2h-2zM2234 689h2v2h-2zM2240 689h2v2h-2zM2246 689h2v2h-2zM2252 689h2v2h-2zM2258 689h2v2h-2zM2264 689h2v2h-2zM2270 689h2v2h-2zM2276 689h2v2h-2zM2282 689h2v2h-2zM2288 689h2v2h-2zM2294 689h2v2h-2zM2300 689h2v2h-2zM2306 689h2v2h-2zM2312 689h2v2h-2zM2318 689h2v2h-2zM2324 689h2v2h-2zM2330 689h2v2h-2zM2336 689h2v2h-2zM2342 689h2v2h-2zM2348 689h2v2h-2zM2354 689h2v2h-2zM2360 689h2v2h-2zM2366 689h2v2h-2zM2372 689h2v2h-2zM2378 689h2v2h-2zM2384 689h2v2h-2zM2390 689h2v2h-2zM2396 689h2v2h-2zM2402 689h2v2h-2zM2408 689h2v2h-2zM2414 689h2v2h-2zM2420 689h2v2h-2zM2426 689h2v2h-2zM2432 689h2v2h-2zM2438 689h2v2h-2zM2444 689h2v2h-2zM2450 689h2v2h-2zM2456 689h2v2h-2zM2462 689h2v2h-2zM2468 689h2v2h-2zM2474 689h2v2h-2zM2480 689h2v2h-2zM2486 689h2v2h-2zM2492 689h2v2h-2zM2498 689h2v2h-2zM2504 689h2v2h-2zM2510 689h2v2h-2zM2516 689h2v2h-2zM2522 689h2v2h-2zM2528 689h2v2h-2zM2534 689h2v2h-2z" fill="#F23645"/>
<text x="34.80" y="94.00" font-size="24" fill="#131722" letter-spacing="0.429" stroke="#131722" stroke-width="0.15">Dogecoin / TetherUS · 1W · Binance</text>
<text x="448.60" y="94.00" font-size="24" fill="#131722" stroke="#131722" stroke-width="0.15">O</text>
<text transform="translate(467.65 94.00) scale(1.05 1)" font-size="24" fill="#F23645" letter-spacing="0.145" stroke="#F23645" stroke-width="0.15">0.18639</text>
<text x="572.60" y="94.00" font-size="24" fill="#131722" stroke="#131722" stroke-width="0.15">H</text>
<text transform="translate(590.45 94.00) scale(1.05 1)" font-size="24" fill="#F23645" letter-spacing="0.367" stroke="#F23645" stroke-width="0.15">0.18666</text>
<text x="697.60" y="94.00" font-size="24" fill="#131722" stroke="#131722" stroke-width="0.15">L</text>
<text transform="translate(712.25 94.00) scale(1.05 1)" font-size="24" fill="#F23645" letter-spacing="-0.728" stroke="#F23645" stroke-width="0.15">0.15159</text>
<text x="812.45" y="94.00" font-size="24" fill="#131722" stroke="#131722" stroke-width="0.15">C</text>
<text transform="translate(830.05 94.00) scale(1.05 1)" font-size="24" fill="#F23645" letter-spacing="-0.125" stroke="#F23645" stroke-width="0.15">0.17803</text>
<text transform="translate(933.49 94.00) scale(1.05 1)" font-size="24" fill="#F23645" letter-spacing="0.718" stroke="#F23645" stroke-width="0.15">−0.00835</text>
<text x="1051.90" y="94.00" font-size="24" fill="#F23645" letter-spacing="1.143" stroke="#F23645" stroke-width="0.15">(−4.48%)</text>
<text x="37.05" y="128.00" font-size="24" fill="#131722" letter-spacing="0.050" stroke="#131722" stroke-width="0.15">Vol · DOGE (100)</text>
<text transform="translate(239.24 128.00) scale(0.95 1)" font-size="24" fill="#EF5350" letter-spacing="0.246" stroke="#EF5350" stroke-width="0.15">11.3</text>
<text x="286.10" y="128.00" font-size="24" fill="#EF5350" stroke="#EF5350" stroke-width="0.15">B</text>
<text transform="translate(315.14 128.00) scale(0.95 1)" font-size="24" fill="#FF9850" letter-spacing="0.283" stroke="#FF9850" stroke-width="0.15">11.73</text>
<text x="375.50" y="128.00" font-size="24" fill="#FF9850" stroke="#FF9850" stroke-width="0.15">B</text>
<text transform="translate(2555.95 78.90) scale(1.05 1)" font-size="24" fill="#131722" letter-spacing="0.976" stroke="#131722" stroke-width="0.15">0.38000</text>
<text transform="translate(2555.95 140.23) scale(1.05 1)" font-size="24" fill="#131722" letter-spacing="0.976" stroke="#131722" stroke-width="0.15">0.36000</text>
<text transform="translate(2555.95 201.56) scale(1.05 1)" font-size="24" fill="#131722" letter-spacing="0.976" stroke="#131722" stroke-width="0.15">0.34000</text>
<text transform="translate(2555.95 262.89) scale(1.05 1)" font-size="24" fill="#131722" letter-spacing="0.976" stroke="#131722" stroke-width="0.15">0.32000</text>
<text transform="translate(2555.95 324.22) scale(1.05 1)" font-size="24" fill="#131722" letter-spacing="0.976" stroke="#131722" stroke-width="0.15">0.30000</text>
<text transform="translate(2555.95 385.55) scale(1.05 1)" font-size="24" fill="#131722" letter-spacing="0.976" stroke="#131722" stroke-width="0.15">0.28000</text>
<text transform="translate(2555.95 446.88) scale(1.05 1)" font-size="24" fill="#131722" letter-spacing="0.976" stroke="#131722" stroke-width="0.15">0.26000</text>
<text transform="translate(2555.95 508.21) scale(1.05 1)" font-size="24" fill="#131722" letter-spacing="0.976" stroke="#131722" stroke-width="0.15">0.24000</text>
<text transform="translate(2555.95 569.54) scale(1.05 1)" font-size="24" fill="#131722" letter-spacing="0.976" stroke="#131722" stroke-width="0.15">0.22000</text>
<text transform="translate(2555.95 630.87) scale(1.05 1)" font-size="24" fill="#131722" letter-spacing="0.976" stroke="#131722" stroke-width="0.15">0.20000</text>
<text transform="translate(2555.95 692.20) scale(1.05 1)" font-size="24" fill="#131722" letter-spacing="0.976" stroke="#131722" stroke-width="0.15">0.18000</text>
<text transform="translate(2555.95 753.53) scale(1.05 1)" font-size="24" fill="#131722" letter-spacing="0.976" stroke="#131722" stroke-width="0.15">0.16000</text>
<text transform="translate(2555.95 814.86) scale(1.05 1)" font-size="24" fill="#131722" letter-spacing="0.976" stroke="#131722" stroke-width="0.15">0.14000</text>
<text transform="translate(2555.95 876.19) scale(1.05 1)" font-size="24" fill="#131722" letter-spacing="0.976" stroke="#131722" stroke-width="0.15">0.12000</text>
<text transform="translate(2555.95 937.52) scale(1.05 1)" font-size="24" fill="#131722" letter-spacing="0.976" stroke="#131722" stroke-width="0.15">0.10000</text>
<text transform="translate(2555.95 998.85) scale(1.05 1)" font-size="24" fill="#131722" letter-spacing="0.976" stroke="#131722" stroke-width="0.15">0.08000</text>
<text transform="translate(2555.95 1060.18) scale(1.05 1)" font-size="24" fill="#131722" letter-spacing="0.976" stroke="#131722" stroke-width="0.15">0.06000</text>
<text transform="translate(2555.95 1121.51) scale(1.05 1)" font-size="24" fill="#131722" letter-spacing="0.976" stroke="#131722" stroke-width="0.15">0.04000</text>
<path d="M2540 321h120a4 4 0 0 1 4 4v26a4 4 0 0 1 -4 4h-120z" fill="#9C27B0" shape-rendering="geometricPrecision"/>
<text transform="translate(2556.15 346.20) scale(1.05 1)" font-size="24" fill="#fff" letter-spacing="0.986" stroke="#fff" stroke-width="0.15">0.29295</text>
<path d="M2540 673h128a4 4 0 0 1 4 4v54a4 4 0 0 1 -4 4h-128z" fill="#F23645" shape-rendering="geometricPrecision"/>
<text transform="translate(2555.95 697.20) scale(1.05 1)" font-size="24" fill="#fff" letter-spacing="1.034" stroke="#fff" stroke-width="0.15">0.17803</text>
<text transform="translate(2555.95 725.40) scale(1.05 1)" font-size="24" fill="#fff" letter-spacing="0.910" fill-opacity="0.8" stroke-opacity="0.8" stroke="#fff" stroke-width="0.15">08:43:58</text>
<path d="M2540 786h120a4 4 0 0 1 4 4v26a4 4 0 0 1 -4 4h-120z" fill="#9C27B0" shape-rendering="geometricPrecision"/>
<text transform="translate(2555.95 810.70) scale(1.05 1)" font-size="24" fill="#fff" letter-spacing="1.325" stroke="#fff" stroke-width="0.15">0.14115</text>
<path d="M2540 989h120a4 4 0 0 1 4 4v26a4 4 0 0 1 -4 4h-120z" fill="#9C27B0" shape-rendering="geometricPrecision"/>
<text transform="translate(2556.35 1014.20) scale(1.05 1)" font-size="24" fill="#fff" letter-spacing="0.881" stroke="#fff" stroke-width="0.15">0.07500</text>
<path d="M2540 1023h120a4 4 0 0 1 4 4v26a4 4 0 0 1 -4 4h-120z" fill="#9C27B0" shape-rendering="geometricPrecision"/>
<text transform="translate(2556.35 1048.20) scale(1.05 1)" font-size="24" fill="#fff" letter-spacing="0.923" stroke="#fff" stroke-width="0.15">0.06546</text>
<path d="M2540 1068h120a4 4 0 0 1 4 4v26a4 4 0 0 1 -4 4h-120z" fill="#BF8F00" shape-rendering="geometricPrecision"/>
<text transform="translate(2556.45 1092.70) scale(1.05 1)" font-size="24" fill="#fff" letter-spacing="0.871" stroke="#fff" stroke-width="0.15">0.04914</text>
<path d="M2540 1102h110a4 4 0 0 1 4 4v26a4 4 0 0 1 -4 4h-110z" fill="#FF9850" shape-rendering="geometricPrecision"/>
<text transform="translate(2557.06 1126.80) scale(1.05 1)" font-size="24" fill="#000" letter-spacing="1.101" stroke="#000" stroke-width="0.15">11.73</text>
<text x="2626.90" y="1126.80" font-size="24" fill="#000" stroke="#000" stroke-width="0.15">B</text>
<path d="M2540 1136h94a4 4 0 0 1 4 4v26a4 4 0 0 1 -4 4h-94z" fill="#EF5350" shape-rendering="geometricPrecision"/>
<text transform="translate(2557.06 1161.30) scale(1.05 1)" font-size="24" fill="#fff" letter-spacing="1.651" stroke="#fff" stroke-width="0.15">11.3</text>
<text x="2612.30" y="1161.30" font-size="24" fill="#fff" stroke="#fff" stroke-width="0.15">B</text>
<text x="132.38" y="1208.00" font-size="24" fill="#131722" stroke="#131722" stroke-width="0.15">May</text>
<text x="279.25" y="1208.00" font-size="24" fill="#131722" stroke="#131722" stroke-width="0.15">Jul</text>
<text x="427.75" y="1208.00" font-size="24" fill="#131722" stroke="#131722" stroke-width="0.15">Sep</text>
<text x="581.62" y="1208.00" font-size="24" fill="#131722" stroke="#131722" stroke-width="0.15">Nov</text>
<text transform="translate(727.14 1208.00) scale(1.15 1)" font-size="24" fill="#131722" letter-spacing="0.812" font-weight="700">2025</text>
<text x="875.62" y="1208.00" font-size="24" fill="#131722" stroke="#131722" stroke-width="0.15">Mar</text>
<text x="1028.38" y="1208.00" font-size="24" fill="#131722" stroke="#131722" stroke-width="0.15">May</text>
<text x="1192.25" y="1208.00" font-size="24" fill="#131722" stroke="#131722" stroke-width="0.15">Jul</text>
<text x="1323.75" y="1208.00" font-size="24" fill="#131722" stroke="#131722" stroke-width="0.15">Sep</text>
<text x="1477.62" y="1208.00" font-size="24" fill="#131722" stroke="#131722" stroke-width="0.15">Nov</text>
<text transform="translate(1623.14 1208.00) scale(1.15 1)" font-size="24" fill="#131722" letter-spacing="0.895" font-weight="700">2026</text>
<text x="1771.62" y="1208.00" font-size="24" fill="#131722" stroke="#131722" stroke-width="0.15">Mar</text>
<text x="1924.38" y="1208.00" font-size="24" fill="#131722" stroke="#131722" stroke-width="0.15">May</text>
<text x="2088.25" y="1208.00" font-size="24" fill="#131722" stroke="#131722" stroke-width="0.15">Jul</text>
<text x="2237.75" y="1208.00" font-size="24" fill="#131722" stroke="#131722" stroke-width="0.15">Sep</text>
<text x="2373.62" y="1208.00" font-size="24" fill="#131722" stroke="#131722" stroke-width="0.15">Nov</text>
<g shape-rendering="geometricPrecision">
<circle cx="1500.1" cy="1144.9" r="23" fill="#fff"/>
<path d="M1518.74 1138.84A19.6 19.6 0 1 1 1506.16 1126.26" fill="none" stroke="#9C27B0" stroke-width="2.8"/>
<path d="M1505 1134.2L1506.2 1136.4L1501.2 1144H1509L1494.6 1156.1L1493.1 1154.3L1498.7 1146.4H1491.2L1491.3 1145.6Z" fill="#9C27B0"/>
<circle cx="1513.8" cy="1131.1" r="5" fill="#F23645"/>
</g>
<text x="20.20" y="39.60" font-size="24.8" fill="#000" letter-spacing="0.223" stroke="#000" stroke-width="0.15">Den767 created with TradingView.com, Nov 09, 2025 15:16 UTC</text>
<g fill="#131313" shape-rendering="geometricPrecision">
<path d="M24.1 1270.3H47.8V1299.8H36V1281.9H24.1Z"/>
<circle cx="57.8" cy="1276.1" r="5.9"/>
<path d="M69.6 1270.3H83.9L72.2 1299.8H58.1Z"/>
</g>
<text x="97.30" y="1299.80" font-size="41.2" fill="#131313" letter-spacing="0.020" font-weight="700">TradingView</text>
</svg>
</body></html>
